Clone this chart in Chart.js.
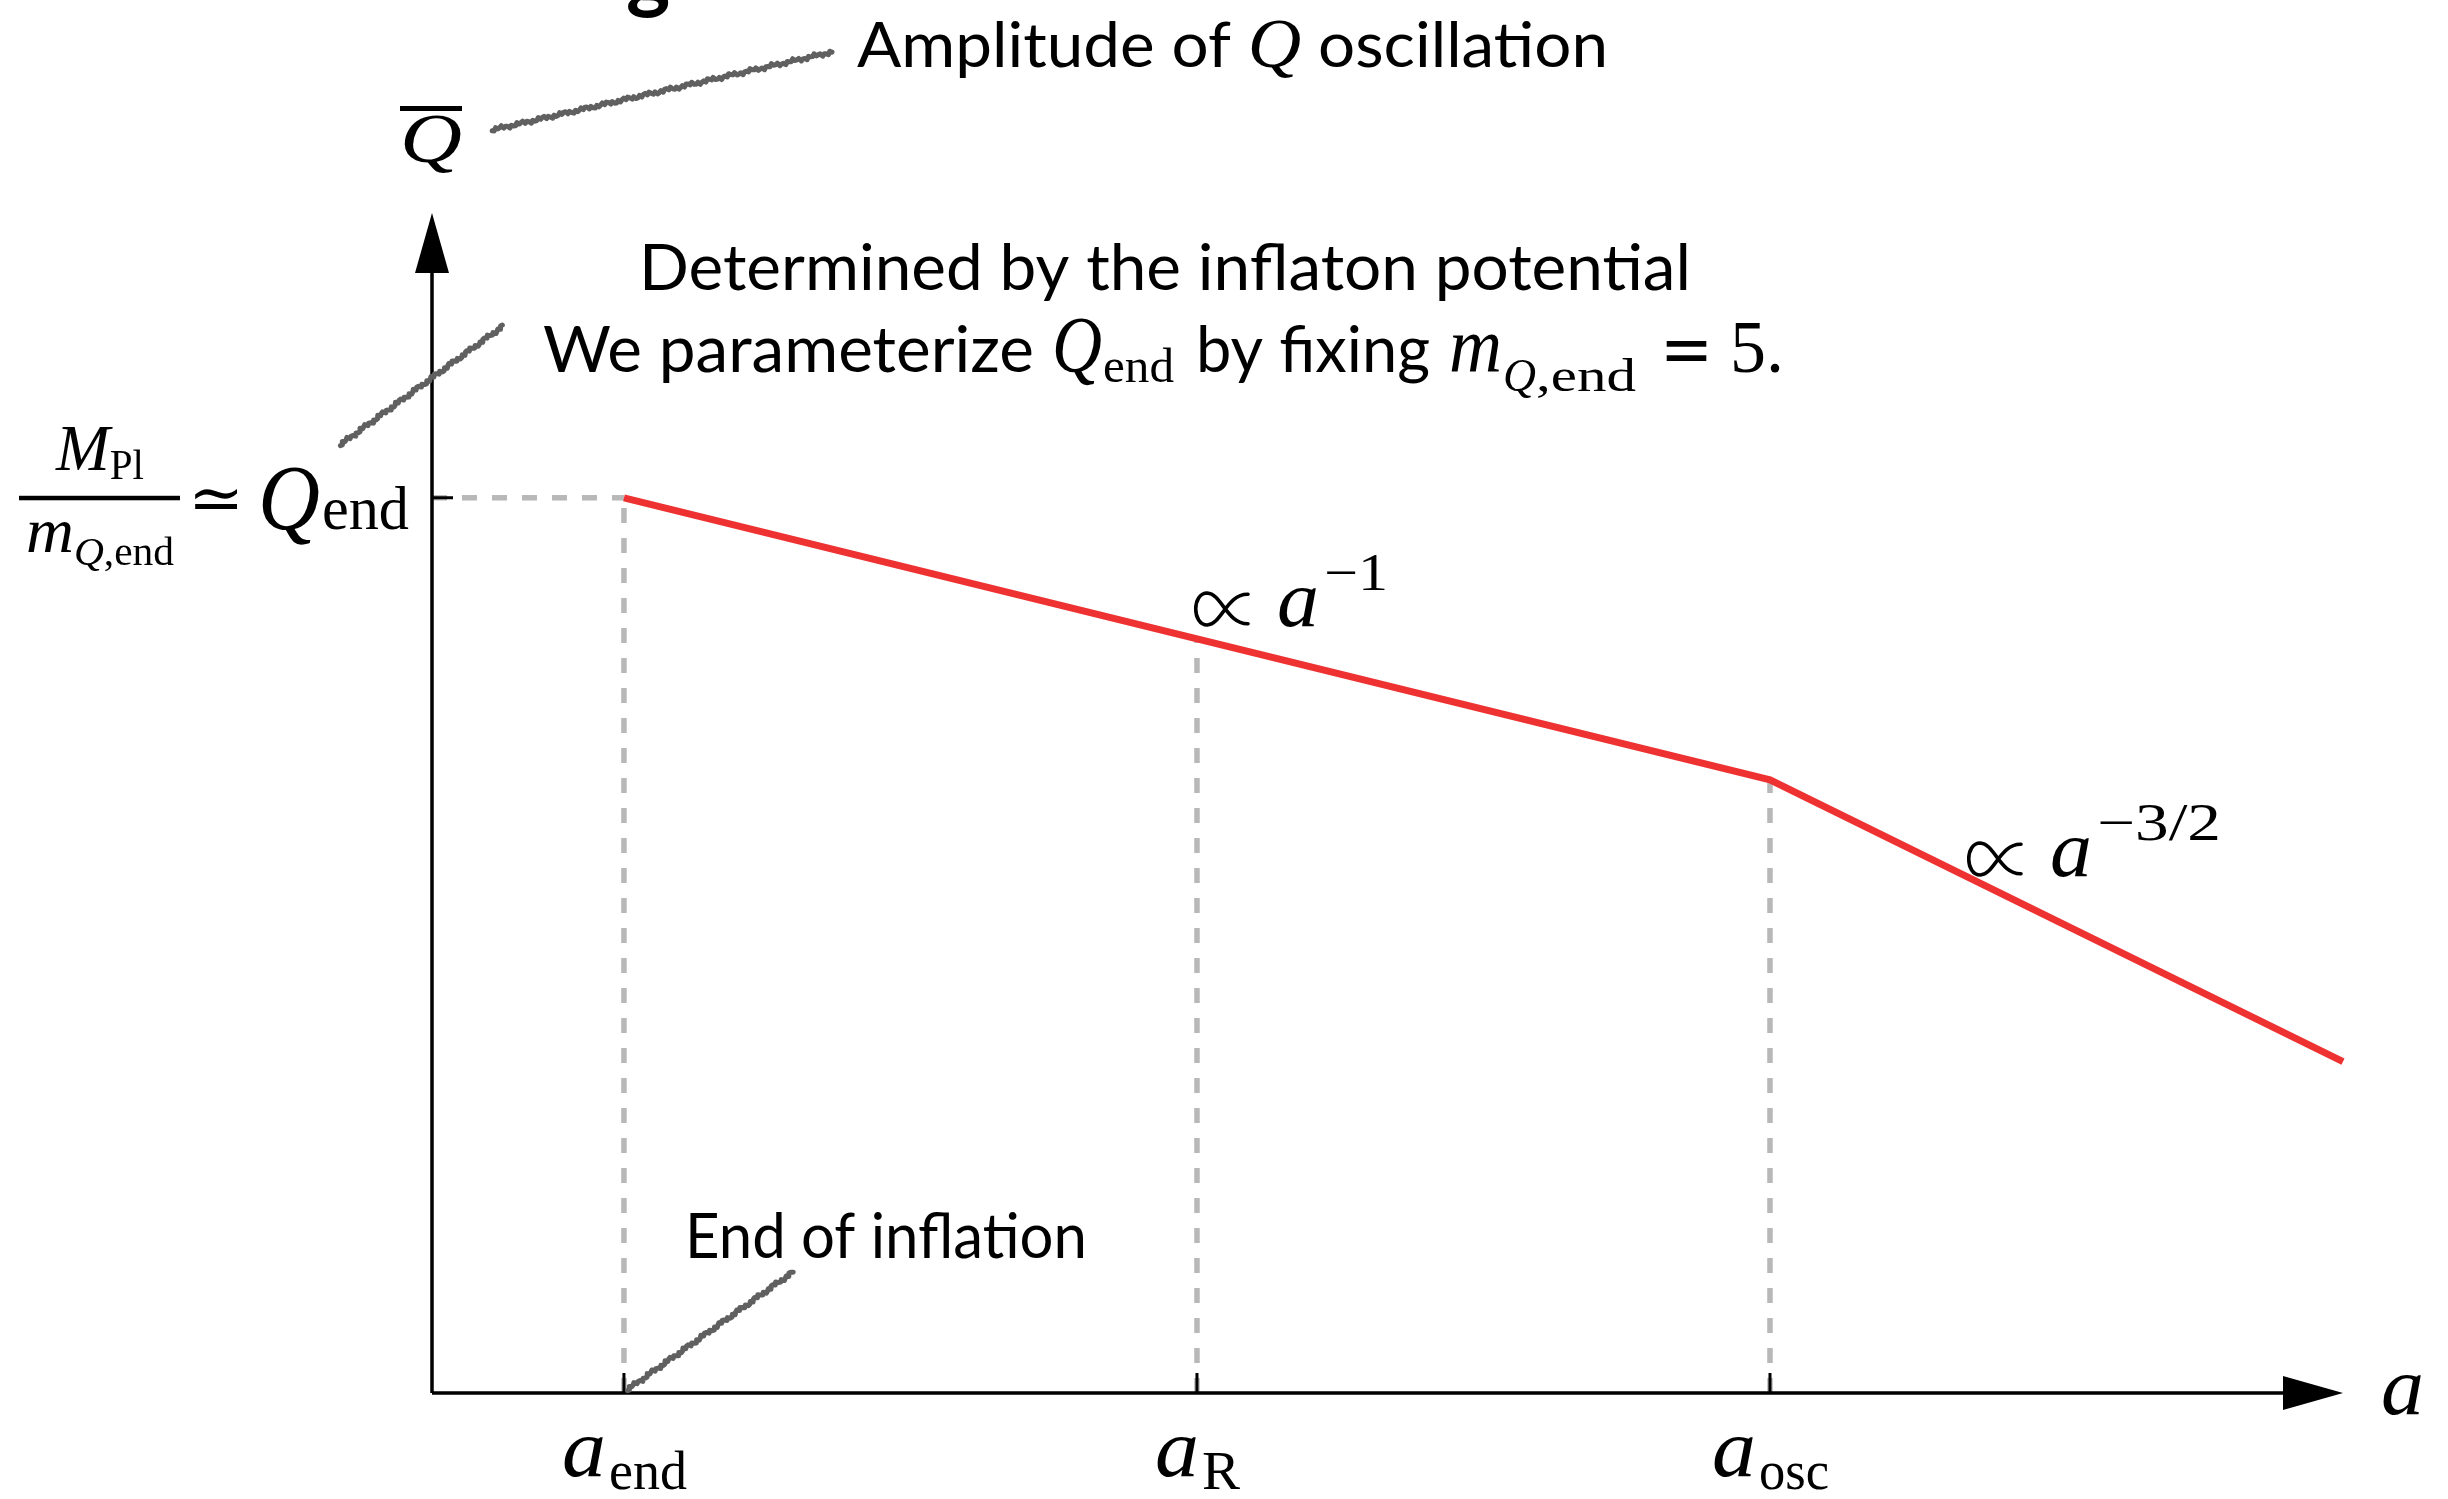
<!DOCTYPE html>
<html>
<head>
<meta charset="utf-8">
<script src="https://cdn.jsdelivr.net/npm/chart.js@4/dist/chart.umd.min.js"></script>
<style>
  html, body { margin: 0; padding: 0; background: #ffffff; }
  #wrap { width: 2448px; height: 1499px; }
</style>
</head>
<body>
<div id="wrap"><canvas id="c" width="2448" height="1499"></canvas></div>
<script>
// Scale factor a on a log axis (arbitrary units), amplitude log Q (arbitrary units)
const markerNames = ['end', 'R', 'osc'];     // subscripts of the marked scale factors
const markerA     = [1, 2, 3];               // a_end, a_R, a_osc
const markerQ     = [0, -1, -2];             // curve height at each marker
const curveA      = [1, 3, 4];               // break points of the amplitude curve
const curveQ      = [0, -2, -4];             // log amplitude at the break points
const xRange      = [0.665, 4];
const yRange      = [-6.35, 2.02];

const SANS  = 'Lato, "Open Sans", sans-serif';
const SERIF = '"Liberation Serif", "DejaVu Serif", serif';
const DJV   = '"DejaVu Serif", serif';

const RED  = '#ee3232';
const GREY = '#b8b8b8';

const datasets = [{
  label: 'Q amplitude',
  data: curveA.map((a, i) => ({ x: a, y: curveQ[i] })),
  borderColor: RED,
  borderWidth: 7,
  pointRadius: 0,
  tension: 0,
  clip: false,
  order: 0
}];
// vertical dashed guides from the a-axis up to the curve
markerA.forEach((a, i) => {
  datasets.push({
    label: 'guide ' + markerNames[i],
    data: [{ x: a, y: yRange[0] }, { x: a, y: markerQ[i] }],
    borderColor: GREY, borderWidth: 5.5, borderDash: [15, 15],
    pointRadius: 0, clip: false, order: 2
  });
});
// horizontal dashed guide at Q_end
datasets.push({
  label: 'guide Qend',
  data: [{ x: xRange[0], y: markerQ[0] }, { x: markerA[0], y: markerQ[0] }],
  borderColor: GREY, borderWidth: 5.5, borderDash: [15, 15],
  pointRadius: 0, clip: false, order: 2
});

// one run of text, optionally squeezed/stretched to a given width
function piece(ctx, text, font, x, y, width, align) {
  ctx.save();
  ctx.font = font;
  ctx.textBaseline = 'alphabetic';
  ctx.textAlign = 'left';
  ctx.fillStyle = '#000';
  const w = ctx.measureText(text).width;
  const sx = width ? width / w : 1;
  let x0 = x;
  if (align === 'center') x0 = x - w * sx / 2;
  ctx.translate(x0, y);
  ctx.scale(sx, 1);
  ctx.fillText(text, 0, 0);
  ctx.restore();
}

// rich text: parts = [text, font, dy]
function rich(ctx, parts, x, y, opt) {
  opt = opt || {};
  let total = 0;
  const w = parts.map(p => { ctx.font = p[1]; const m = ctx.measureText(p[0]).width; total += m; return m; });
  const sx = opt.width ? opt.width / total : 1;
  const drawn = total * sx;
  let x0 = x;
  if (opt.align === 'center') x0 = x - drawn / 2;
  ctx.save();
  ctx.translate(x0, y);
  ctx.scale(sx, 1);
  ctx.fillStyle = '#000';
  ctx.textBaseline = 'alphabetic';
  ctx.textAlign = 'left';
  let cx = 0;
  parts.forEach((p, i) => { ctx.font = p[1]; ctx.fillText(p[0], cx, p[2] || 0); cx += w[i]; });
  ctx.restore();
}

// rough pencil-like pointer line
function pointer(ctx, x1, y1, x2, y2) {
  const dx = x2 - x1, dy = y2 - y1, len = Math.hypot(dx, dy);
  const nx = -dy / len, ny = dx / len;
  const n = Math.ceil(len / 2);
  ctx.save();
  ctx.strokeStyle = '#606060';
  ctx.lineWidth = 5;
  ctx.lineCap = 'round';
  ctx.lineJoin = 'round';
  ctx.beginPath();
  for (let i = 0; i <= n; i++) {
    const t = i / n;
    const off = 1.4 * Math.sin(i * 2.3) + 0.9 * Math.sin(i * 5.7 + 1);
    const px = x1 + dx * t + nx * off, py = y1 + dy * t + ny * off;
    if (i === 0) ctx.moveTo(px, py); else ctx.lineTo(px, py);
  }
  ctx.stroke();
  ctx.restore();
}

function arrowHead(ctx, tx, ty, dirX, dirY, len, half) {
  const px = -dirY, py = dirX;
  const bx = tx - dirX * len, by = ty - dirY * len;
  ctx.beginPath();
  ctx.moveTo(tx, ty);
  ctx.lineTo(bx + px * half, by + py * half);
  ctx.lineTo(bx - px * half, by - py * half);
  ctx.closePath();
  ctx.fill();
}

// thin "proportional to" sign inside the box (L, T) - (R, B)
function propto(ctx, L, T, R, B) {
  const w = R - L, h = B - T;
  ctx.save();
  ctx.strokeStyle = '#000';
  ctx.lineWidth = 3.6;
  ctx.lineCap = 'round';
  ctx.beginPath();
  ctx.moveTo(R, T + 0.04 * h);
  ctx.bezierCurveTo(R - 0.38 * w, T + 0.02 * h, R - 0.48 * w, B - 0.02 * h, L + 0.26 * w, B);
  ctx.bezierCurveTo(L - 0.02 * w, B, L - 0.02 * w, T, L + 0.26 * w, T);
  ctx.bezierCurveTo(R - 0.48 * w, T + 0.02 * h, R - 0.38 * w, B - 0.02 * h, R, B - 0.04 * h);
  ctx.stroke();
  ctx.restore();
}

// "∝ a^(power)" label
function powerLaw(ctx, x, y, power, supWidth) {
  propto(ctx, x + 2, y - 33, x + 57, y - 1);
  piece(ctx, 'a', 'italic 80px ' + SERIF, x + 86, y, 42);
  piece(ctx, power, '52px ' + SERIF, x + 133, y - 36, supWidth);
}

const decor = {
  id: 'decor',
  afterDatasetsDraw(chart) {
    const ctx = chart.ctx;
    const xs = chart.scales.x, ys = chart.scales.y;
    const ca = chart.chartArea;
    const x0 = ca.left, yAxis = ca.bottom;
    const xTip = xs.getPixelForValue(xRange[1]);
    const yTip = ys.getPixelForValue(yRange[1]);

    ctx.save();
    ctx.strokeStyle = '#000';
    ctx.fillStyle = '#000';
    ctx.lineWidth = 3.5;
    ctx.lineCap = 'butt';
    // axes
    ctx.beginPath();
    ctx.moveTo(x0, yAxis); ctx.lineTo(xTip - 40, yAxis);
    ctx.moveTo(x0, yAxis); ctx.lineTo(x0, yTip + 40);
    ctx.stroke();
    arrowHead(ctx, xTip, yAxis, 1, 0, 60, 17);
    arrowHead(ctx, x0, yTip, 0, -1, 60, 17);
    // ticks
    ctx.lineWidth = 3;
    ctx.beginPath();
    markerA.forEach(a => {
      const px = xs.getPixelForValue(a);
      ctx.moveTo(px, yAxis); ctx.lineTo(px, yAxis - 20);
    });
    const yq = ys.getPixelForValue(markerQ[0]);
    ctx.moveTo(x0, yq); ctx.lineTo(x0 + 21, yq);
    ctx.stroke();
    ctx.restore();

    // tick labels a_end, a_R, a_osc
    const subW = { end: 78, R: 38, osc: 70 };
    markerA.forEach((a, i) => {
      const cx = xs.getPixelForValue(a);
      const sw = subW[markerNames[i]];
      const total = 46 + sw;
      const left = cx - total / 2;
      piece(ctx, 'a', 'italic 82px ' + SERIF, left, yAxis + 83, 44);
      piece(ctx, markerNames[i], '54px ' + SERIF, left + 47, yAxis + 96, sw);
    });
    piece(ctx, 'a', 'italic 82px ' + SERIF, xTip + 38, yAxis + 21, 43);

    // Q_end label on the vertical axis
    const fracC = 100;
    rich(ctx, [['M', 'italic 66px ' + SERIF], ['Pl', '42px ' + SERIF, 9]], fracC, yq - 28, { align: 'center', width: 88 });
    ctx.save(); ctx.fillStyle = '#000'; ctx.fillRect(19, yq - 2, 161, 4.5); ctx.restore();
    rich(ctx, [['m', 'italic 64px ' + SERIF], ['Q', 'italic 40px ' + SERIF, 13], [',end', '40px ' + SERIF, 13]],
         fracC, yq + 54, { align: 'center', width: 148 });
    piece(ctx, '\u2243', '64px ' + SERIF, 188, yq + 22, 56);
    piece(ctx, 'Q', 'italic 94px ' + SERIF, 258, yq + 31, 62);
    piece(ctx, 'end', '62px ' + SERIF, 322, yq + 31, 87);

    // slope labels
    powerLaw(ctx, 1191, 626, '\u22121', 64);
    powerLaw(ctx, 1964, 876, '\u22123/2', 124);

    // vertical axis title with overbar
    piece(ctx, 'Q', 'italic 70px ' + SERIF, 400, 162, 62);
    ctx.save(); ctx.fillStyle = '#000'; ctx.fillRect(400, 106, 62, 5); ctx.restore();

    // annotations
    rich(ctx, [['Amplitude of ', '62px ' + SANS], ['Q', 'italic 70px ' + SERIF], [' oscillation', '62px ' + SANS]],
         857, 67, { width: 751 });
    piece(ctx, 'Determined by the inflaton potential', '63px ' + SANS, 639, 290, 1052);
    piece(ctx, 'We parameterize', '63px ' + SANS, 543, 372, 491);
    piece(ctx, 'Q', 'italic 80px ' + SERIF, 1052, 372, 50);
    piece(ctx, 'end', '48px ' + SERIF, 1103, 382, 71);
    piece(ctx, 'by fixing', '63px ' + SANS, 1196, 372, 234);
    piece(ctx, 'm', 'italic 78px ' + SERIF, 1449, 372, 53);
    piece(ctx, 'Q', 'italic 46px ' + SERIF, 1503, 391, 33);
    piece(ctx, ',end', '46px ' + SERIF, 1536, 391, 100);
    piece(ctx, '=', '72px ' + DJV, 1660, 374, 53);
    piece(ctx, '5.', '74px ' + SERIF, 1730, 372, 54);
    piece(ctx, 'End of inflation', '62px ' + SANS, 685, 1258, 402);
    piece(ctx, 'g', 'bold 84px ' + SANS, 626, 2);

    pointer(ctx, 492, 130, 832, 52);
    pointer(ctx, 340, 445, 503, 326);
    pointer(ctx, xs.getPixelForValue(markerA[0]) + 3, yAxis - 3, 793, 1272);
  }
};

new Chart(document.getElementById('c'), {
  type: 'line',
  data: { datasets },
  options: {
    responsive: false,
    animation: false,
    devicePixelRatio: 1,
    layout: { padding: { left: 432, right: 105, top: 213, bottom: 106 } },
    plugins: { legend: { display: false }, tooltip: { enabled: false } },
    elements: { line: { borderCapStyle: 'butt', borderJoinStyle: 'miter' } },
    scales: {
      x: { type: 'linear', min: xRange[0], max: xRange[1], display: false },
      y: { type: 'linear', min: yRange[0], max: yRange[1], display: false }
    }
  },
  plugins: [decor]
});
</script>
</body>
</html>
